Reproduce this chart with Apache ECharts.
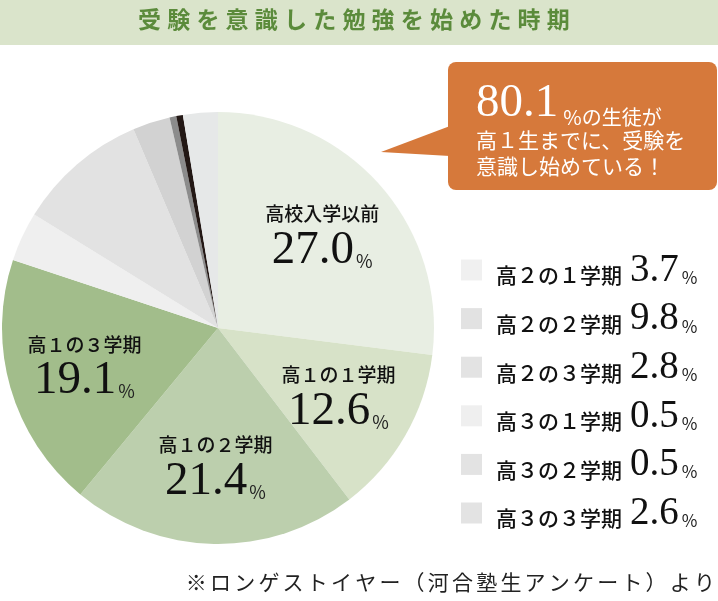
<!DOCTYPE html>
<html>
<head>
<meta charset="utf-8">
<script src="https://cdn.jsdelivr.net/npm/echarts@6/dist/echarts.min.js"></script>
<style>
  html, body { margin: 0; padding: 0; background: #fff; }
  #chart { width: 718px; height: 601px; }
</style>
</head>
<body>
<div id="chart"></div>
<script>
const categories = ['高校入学以前', '高１の１学期', '高１の２学期', '高１の３学期', '高２の１学期',
  '高２の２学期', '高２の３学期', '高３の１学期', '高３の２学期', '高３の３学期'];
const shares = [27.0, 12.6, 21.4, 19.1, 3.7, 9.8, 2.8, 0.5, 0.5, 2.6];
const sliceColors = ['#e8eee3', '#d7e2c8', '#bccfad', '#a2bd8b', '#efefef',
  '#e2e2e2', '#d2d2d2', '#8c8c8c', '#231815', '#e6e8e8'];
const legendNames = categories.slice(4);
const legendColors = ['#f0f0f0', '#e2e2e2', '#e3e3e3', '#efefef', '#e3e3e3', '#e3e3e3'];
const labeledCount = 4;

const titleText = '受験を意識した勉強を始めた時期';
const noteText = '※ロンゲストイヤー（河合塾生アンケート）より';

const JP = '"Noto Sans CJK JP", sans-serif';
const SERIF = '"Liberation Serif", serif';

const spaced = s => s.split('').map(c => '{c|' + c + '}').join('');
const lookup = name => shares[categories.indexOf(name)].toFixed(1);
const early = shares.slice(0, labeledCount).reduce((a, b) => a + b, 0).toFixed(1);

const chart = echarts.init(document.getElementById('chart'));

const pieData = categories.map((n, i) => ({
  name: n,
  value: shares[i],
  itemStyle: { color: sliceColors[i] }
}));

chart.setOption({
  animation: false,
  backgroundColor: '#fff',
  graphic: [
    { type: 'rect', left: 0, top: 0, shape: { width: 718, height: 45 }, style: { fill: '#dae4cb' }, z: -1 },
    {
      type: 'text', left: 138, top: 8,
      style: {
        text: spaced(titleText),
        rich: { c: { fontFamily: JP, fontSize: 23, fontWeight: 'bold', fill: '#5b8b3b', padding: [0, 3.1, 0, 3.1] } }
      }
    },
    {
      type: 'polygon',
      shape: { points: [[450, 126], [381, 152], [450, 156]] },
      style: { fill: '#d6793b' }
    },
    {
      type: 'rect', left: 448, top: 62,
      shape: { width: 269, height: 128, r: 8 },
      style: { fill: '#d6793b' }
    },
    {
      type: 'text', left: 476, top: 80,
      style: {
        text: '{big|' + early + '}{s|%の生徒が}\n{t|高１生までに、受験を}\n{t|意識し始めている！}',
        fill: '#fff',
        rich: {
          big: { fontFamily: SERIF, fontSize: 47, fill: '#fff', lineHeight: 40, verticalAlign: 'bottom' },
          s: { fontFamily: JP, fontSize: 20, fill: '#fff', lineHeight: 30, verticalAlign: 'bottom', padding: [0, 0, 0, 5] },
          t: { fontFamily: JP, fontSize: 21, fill: '#fff', lineHeight: 26 }
        }
      }
    },
    {
      type: 'text', right: 3, top: 572,
      style: {
        text: spaced(noteText),
        rich: { c: { fontFamily: JP, fontSize: 21, fill: '#222', padding: [0, 1.6, 0, 1.6] } }
      }
    }
  ],
  legend: {
    orient: 'vertical',
    left: 456,
    top: 246,
    itemWidth: 21,
    itemHeight: 21,
    itemGap: 9.6,
    icon: 'rect',
    selectedMode: false,
    data: legendNames.map((n, i) => ({ name: n, itemStyle: { color: legendColors[i] } })),
    formatter: name => '{n|' + name + '}{v|' + lookup(name) + '}{p|%}',
    textStyle: {
      rich: {
        n: { fontFamily: JP, fontSize: 21, fontWeight: 500, color: '#111', padding: [0, 8, 4, 9], verticalAlign: 'bottom', lineHeight: 24 },
        v: { fontFamily: SERIF, fontSize: 39, color: '#111', lineHeight: 40, verticalAlign: 'bottom' },
        p: { fontFamily: JP, fontSize: 17, color: '#222', padding: [0, 0, 4, 3], verticalAlign: 'bottom', lineHeight: 20 }
      }
    }
  },
  series: [
    {
      type: 'pie',
      center: [218, 328],
      radius: [0, 216],
      startAngle: 90,
      clockwise: true,
      silent: true,
      label: { show: false },
      labelLine: { show: false },
      itemStyle: { borderWidth: 0 },
      data: pieData
    },
    {
      type: 'pie',
      center: [218, 328],
      radius: [56, 216],
      startAngle: 90,
      clockwise: true,
      silent: true,
      legendHoverLink: false,
      itemStyle: { color: 'rgba(0,0,0,0)', borderWidth: 0 },
      labelLine: { show: false },
      data: categories.map((n, i) => ({
        name: n + ' ',
        value: shares[i],
        label: { show: i < labeledCount }
      })),
      label: {
        position: 'inside',
        formatter: p => '{n|' + p.name.trim() + '}\n{v|' + p.value.toFixed(1) + '}{p|%}',
        rich: {
          n: { fontFamily: JP, fontSize: 19, fontWeight: 500, color: '#111', lineHeight: 32, align: 'center' },
          v: { fontFamily: SERIF, fontSize: 47, color: '#111', lineHeight: 44, verticalAlign: 'bottom' },
          p: { fontFamily: JP, fontSize: 18, color: '#222', lineHeight: 22, verticalAlign: 'bottom', padding: [0, 0, 4, 2] }
        }
      }
    }
  ]
});
</script>
</body>
</html>
